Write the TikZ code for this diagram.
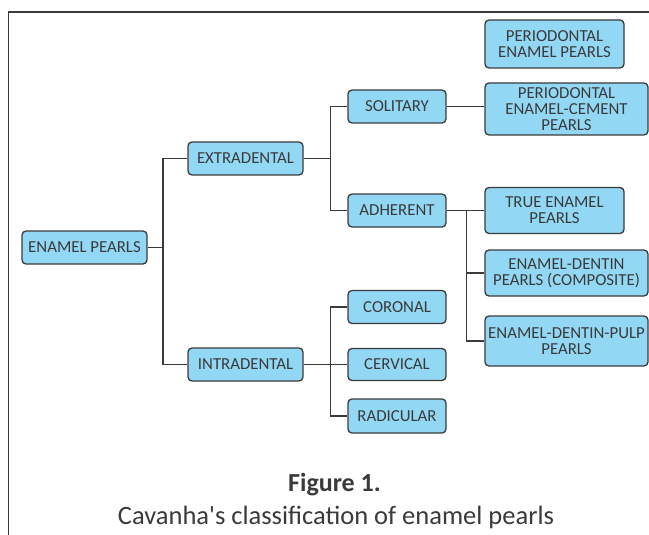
\documentclass[tikz,border=0pt]{standalone}
\usepackage{fontspec}
\setmainfont{Carlito}
\usetikzlibrary{positioning}

\definecolor{pearlblue}{RGB}{146,216,245}
\definecolor{inkgray}{RGB}{58,58,58}

\tikzset{
  box/.style={draw=inkgray, fill=pearlblue, line width=1.3pt, rounded corners=4pt,
    text=inkgray, align=center, inner sep=2pt,
    font=\fontsize{16.8}{16.3}\selectfont},
  link/.style={draw=inkgray, line width=1.3pt}
}

\begin{document}
\begin{tikzpicture}[x=1pt,y=-1pt]
\useasboundingbox (0,0) rectangle (649,535);
%frame
\draw[inkgray, line width=1.3pt] (8.5,535) -- (8.5,12) -- (649,12);

\node[box, minimum width=125pt, minimum height=33pt] (ep) at (84.5,247.5) {ENAMEL PEARLS};
\node[box, minimum width=115pt, minimum height=33pt] (extra) at (245.5,158.5) {EXTRADENTAL};
\node[box, minimum width=115pt, minimum height=33pt] (intra) at (245.5,364.5) {INTRADENTAL};

\node[box, minimum width=98pt, minimum height=33pt] (sol) at (397,106.5) {SOLITARY};
\node[box, minimum width=98pt, minimum height=33pt] (adh) at (397,210.5) {ADHERENT};
\node[box, minimum width=98pt, minimum height=33pt] (cor) at (397,307) {CORONAL};
\node[box, minimum width=98pt, minimum height=32pt] (cerv) at (397,364.5) {CERVICAL};
\node[box, minimum width=98pt, minimum height=34pt] (rad) at (397,416) {RADICULAR};

\node[box, minimum width=139pt, minimum height=48pt] (pep) at (554.5,44) {PERIODONTAL\\ENAMEL PEARLS};
\node[box, minimum width=163pt, minimum height=52pt] (pec) at (566.5,109) {PERIODONTAL\\ENAMEL-CEMENT\\PEARLS};
\node[box, minimum width=139pt, minimum height=46pt] (true) at (554.5,210.5) {TRUE ENAMEL\\PEARLS};
\node[box, minimum width=163pt, minimum height=46pt] (edc) at (566.5,273) {ENAMEL-DENTIN\\PEARLS (COMPOSITE)};
\node[box, minimum width=163pt, minimum height=50pt] (edp) at (566.5,341) {ENAMEL-DENTIN-PULP\\PEARLS};

%joints of the brackets
\coordinate (j1) at (163,0);
\coordinate (j2) at (330.5,0);
\coordinate (j3) at (466.5,0);

\draw[link] (ep.east) -- (j1 |- ep.east);
\draw[link] (extra.west) -| (j1 |- intra.west) -- (intra.west);

\draw[link] (extra.east) -- (j2 |- extra.east);
\draw[link] (sol.west) -| (j2 |- adh.west) -- (adh.west);

\draw[link] (intra.east) -- (cerv.west);
\draw[link] (cor.west) -| (j2 |- rad.west) -- (rad.west);

\draw[link] (sol.east) -- (sol.east -| pec.west);

\draw[link] (adh.east) -- (adh.east -| true.west);
\draw[link] (j3 |- adh.east) |- (edp.west);
\draw[link] (j3 |- edc.west) -- (edc.west);

%caption
\node[text=inkgray, font=\fontsize{26}{28}\selectfont\bfseries] (fig) at (334.5,485) {Figure 1.};
\node[text=inkgray, font=\fontsize{26.5}{28}\selectfont] (cap) at (336,517) {Cavanha\textquotesingle s classification of enamel pearls};
\end{tikzpicture}
\end{document}
